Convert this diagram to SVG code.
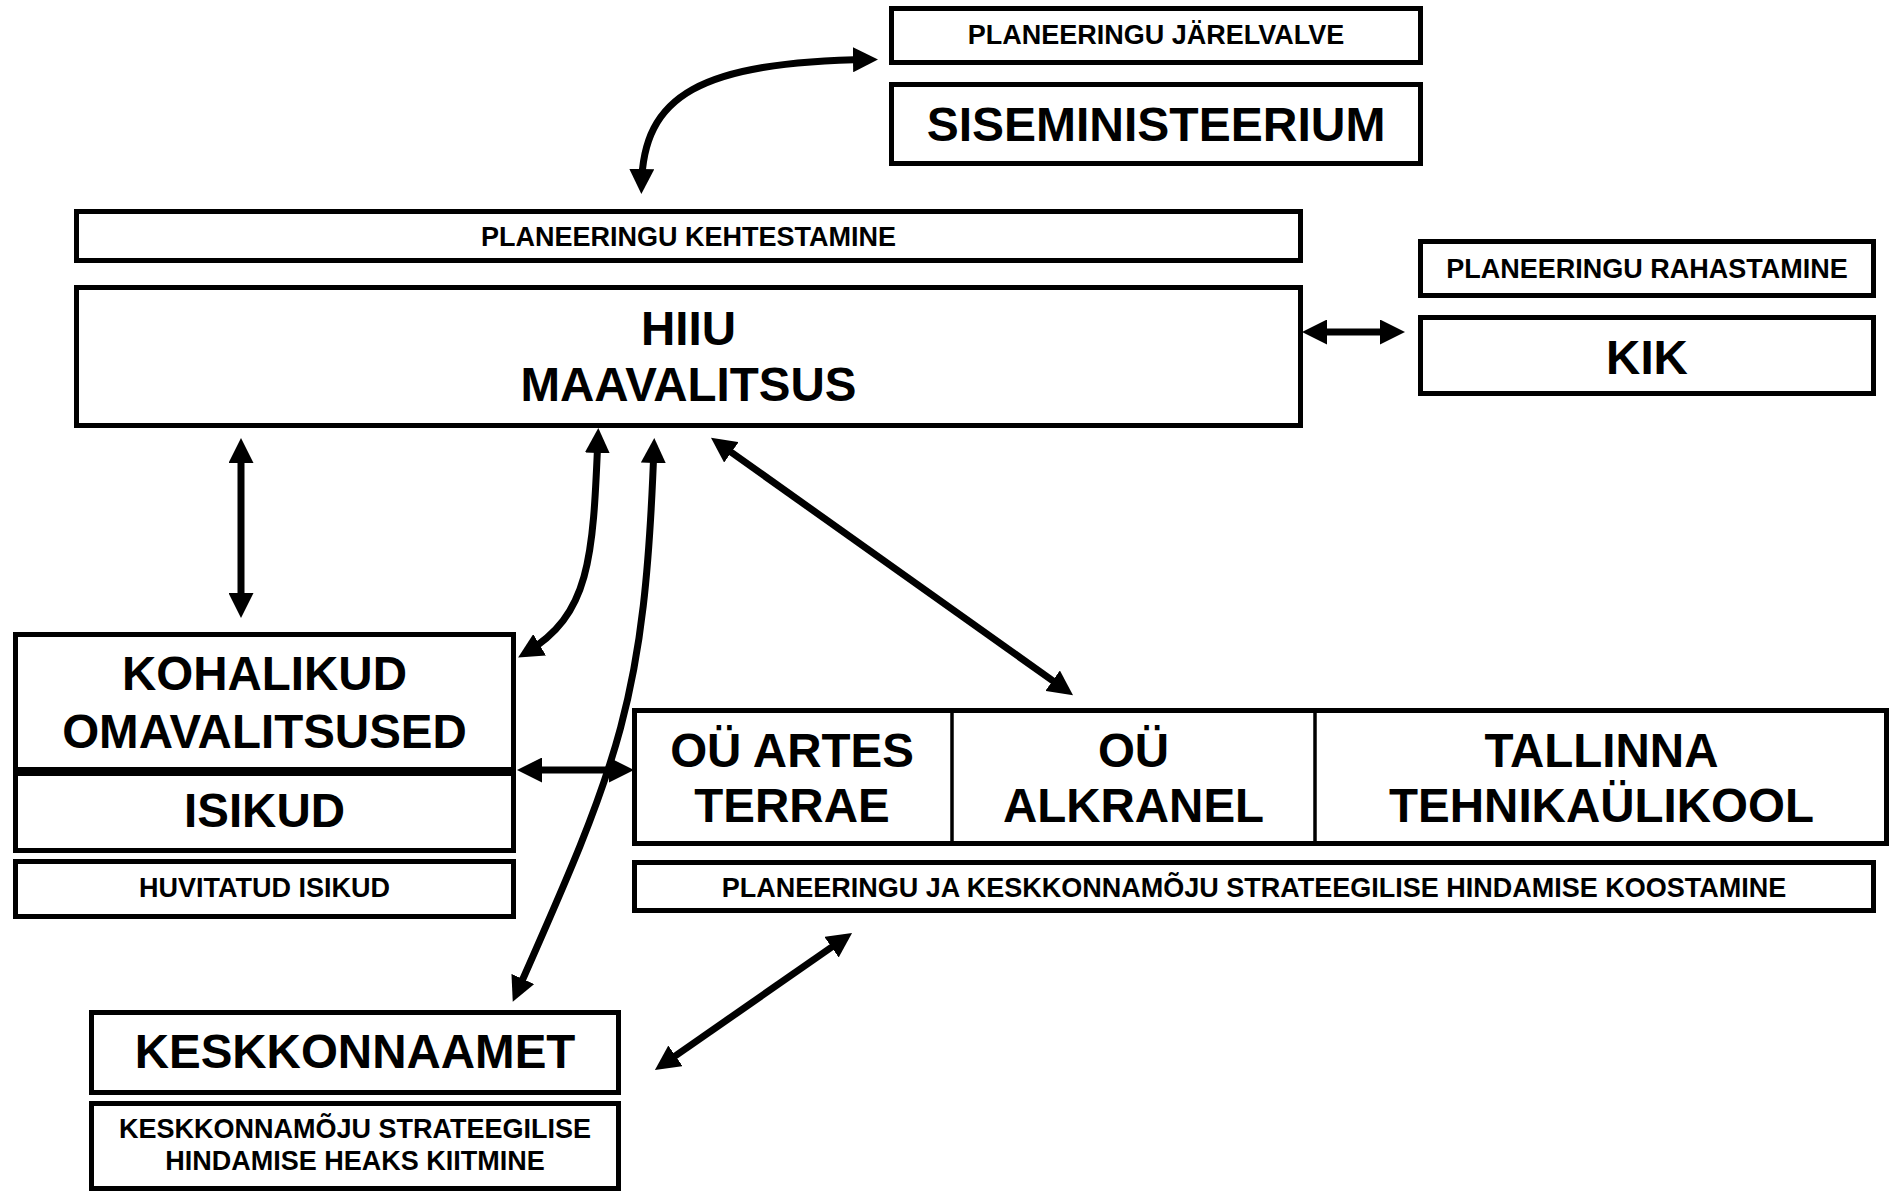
<svg xmlns="http://www.w3.org/2000/svg" width="1892" height="1191" viewBox="0 0 1892 1191">
  <style>
    .box { fill: #fff; stroke: #000; stroke-width: 5; }
    .div { stroke: #000; stroke-width: 3.5; }
    .t { font-family: "Liberation Sans", Arial, sans-serif; font-weight: bold; text-anchor: middle; fill: #000; }
    .s { font-size: 27px; }
    .l { font-size: 47.5px; }
    .conn path { fill: none; stroke: #000; stroke-width: 7; marker-start: url(#ah); marker-end: url(#ah); }
  </style>
  <defs>
    <marker id="ah" markerUnits="userSpaceOnUse" viewBox="0 0 25 25" markerWidth="25" markerHeight="25" refX="17" refY="12.5" orient="auto-start-reverse">
      <path d="M0,0 L25,12.5 L0,25 z" fill="#000"/>
    </marker>
  </defs>
  <rect width="1892" height="1191" fill="#fff"/>

  <g id="jarelvalve">
    <rect class="box" x="891.5" y="8.5" width="529" height="54"/>
    <text class="t s" x="1156" y="44">PLANEERINGU JÄRELVALVE</text>
  </g>
  <g id="siseministeerium">
    <rect class="box" x="891.5" y="84.5" width="529" height="79"/>
    <text class="t" style="font-size:48px" x="1156" y="141">SISEMINISTEERIUM</text>
  </g>
  <g id="kehtestamine">
    <rect class="box" x="76.5" y="211.5" width="1224" height="49"/>
    <text class="t s" x="688.5" y="246">PLANEERINGU KEHTESTAMINE</text>
  </g>
  <g id="hiiu">
    <rect class="box" x="76.5" y="287.5" width="1224" height="138"/>
    <text class="t l" x="688.5" y="345">HIIU</text>
    <text class="t l" x="688.5" y="401">MAAVALITSUS</text>
  </g>
  <g id="rahastamine">
    <rect class="box" x="1420.5" y="241.5" width="453" height="54"/>
    <text class="t s" x="1647" y="278">PLANEERINGU RAHASTAMINE</text>
  </g>
  <g id="kik">
    <rect class="box" x="1420.5" y="317.5" width="453" height="76"/>
    <text class="t l" x="1647" y="374">KIK</text>
  </g>
  <g id="kohalikud">
    <rect class="box" x="15.5" y="634.5" width="498" height="216"/>
    <line x1="15" y1="771.5" x2="514" y2="771.5" stroke="#000" stroke-width="9"/>
    <text class="t l" x="264.5" y="690">KOHALIKUD</text>
    <text class="t l" x="264.5" y="748">OMAVALITSUSED</text>
    <text class="t l" x="264.5" y="827">ISIKUD</text>
  </g>
  <g id="huvitatud">
    <rect class="box" x="15.5" y="861.5" width="498" height="55"/>
    <text class="t s" x="264.5" y="897">HUVITATUD ISIKUD</text>
  </g>
  <g id="koostajad">
    <rect class="box" x="634.5" y="710.5" width="1252" height="133"/>
    <line class="div" x1="952" y1="711" x2="952" y2="843"/>
    <line class="div" x1="1315" y1="711" x2="1315" y2="843"/>
    <text class="t l" x="792" y="767">OÜ ARTES</text>
    <text class="t l" x="792" y="822">TERRAE</text>
    <text class="t l" x="1133.5" y="767">OÜ</text>
    <text class="t l" x="1133.5" y="822">ALKRANEL</text>
    <text class="t l" x="1601.5" y="767">TALLINNA</text>
    <text class="t l" x="1601.5" y="822">TEHNIKAÜLIKOOL</text>
  </g>
  <g id="koostamine">
    <rect class="box" x="634.5" y="862.5" width="1239" height="48"/>
    <text class="t s" x="1254" y="897">PLANEERINGU JA KESKKONNAMÕJU STRATEEGILISE HINDAMISE KOOSTAMINE</text>
  </g>
  <g id="keskkonnaamet">
    <rect class="box" x="91.5" y="1012.5" width="527" height="80"/>
    <text class="t l" x="355" y="1068">KESKKONNAAMET</text>
  </g>
  <g id="heakskiitmine">
    <rect class="box" x="91.5" y="1103.5" width="527" height="85"/>
    <text class="t s" x="355" y="1138">KESKKONNAMÕJU STRATEEGILISE</text>
    <text class="t s" x="355" y="1170">HINDAMISE HEAKS KIITMINE</text>
  </g>

  <g id="connectors" class="conn">
    <path d="M870,59.5 C700,62 643,95 641.5,186"/>
    <path d="M1310,332 L1397,332"/>
    <path d="M241,446 L241,610"/>
    <path d="M598,436 C593,560 590,615 525,653.5"/>
    <path d="M654,446 C645,700 620,760 516,994.5"/>
    <path d="M717.5,442.5 L1066.5,690.5"/>
    <path d="M525,770 L626,770"/>
    <path d="M845.5,937.5 L661.5,1065.5"/>
  </g>
</svg>
